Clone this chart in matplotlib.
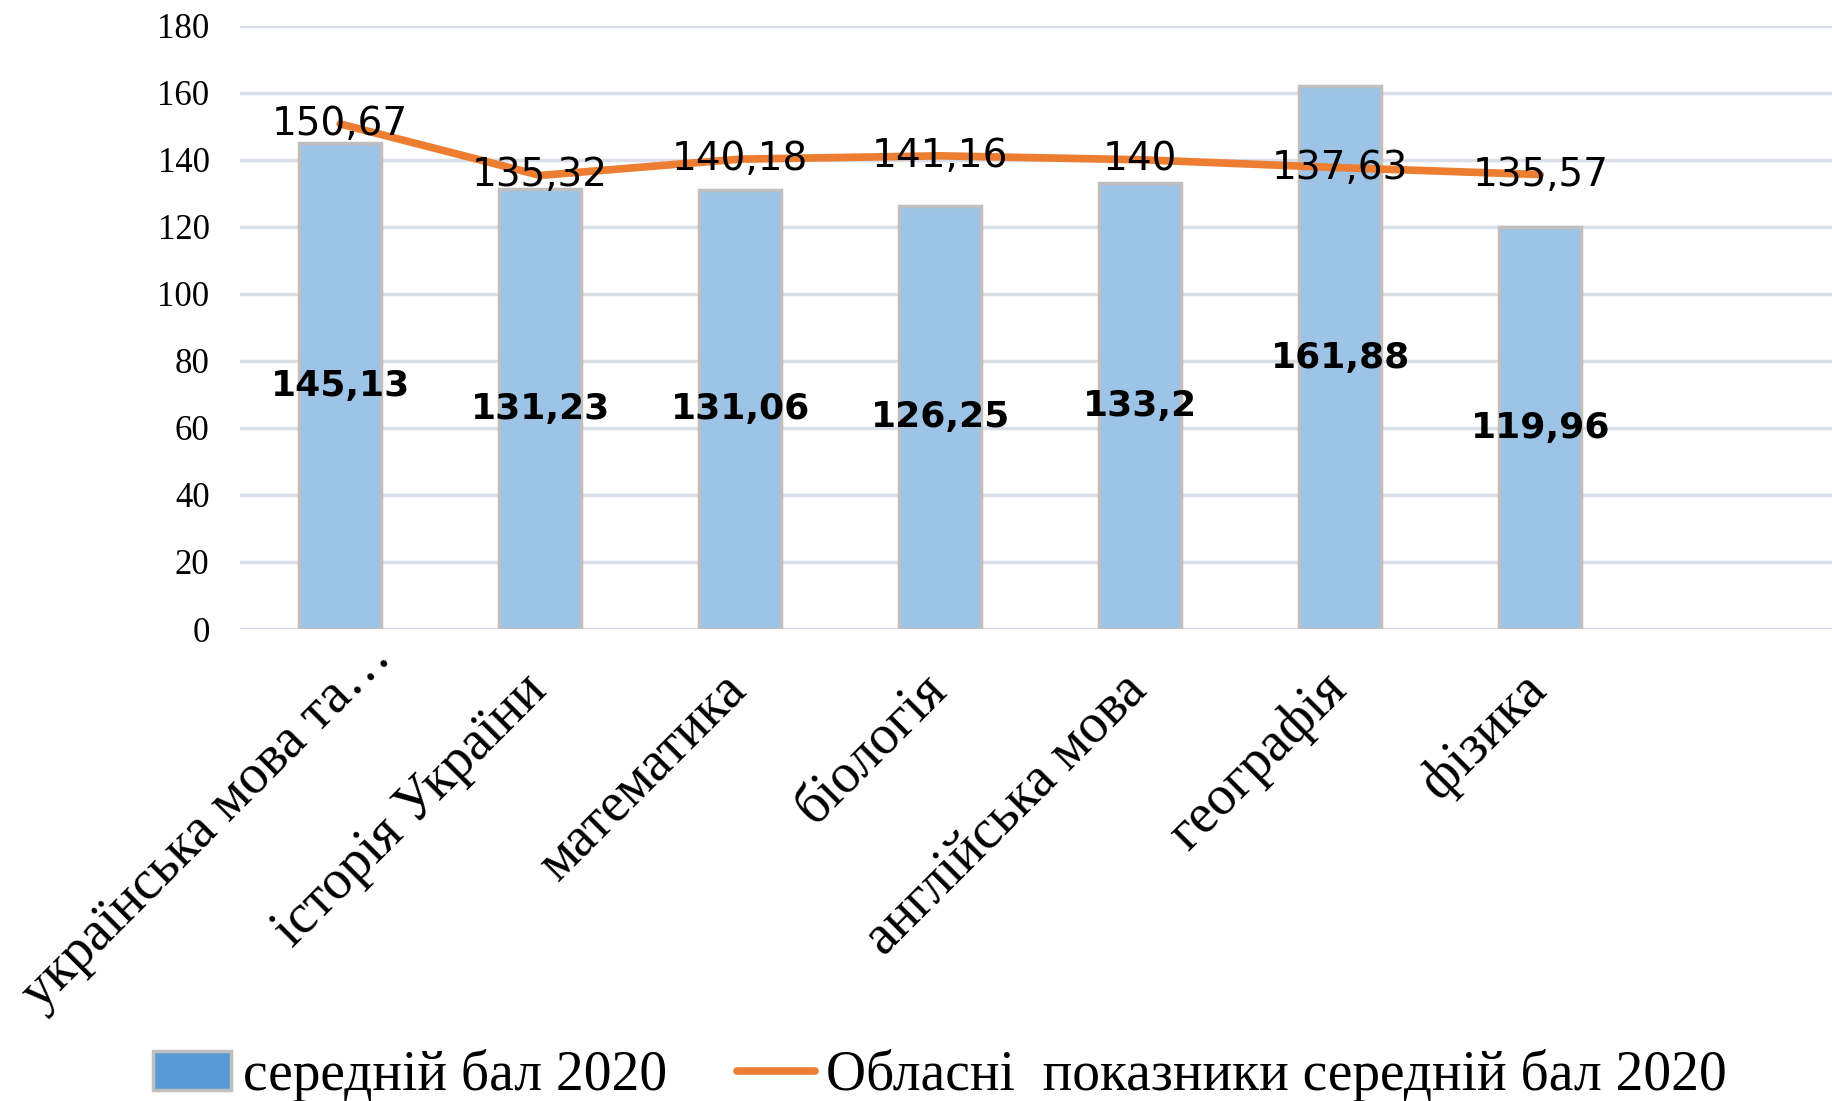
import numpy as np
import matplotlib
matplotlib.use("Agg")
from matplotlib import pyplot as plt

subjects = ["українська мова та…", "історія України", "математика", "біологія",
            "англійська мова", "географія", "фізика"]
school_avg = [145.13, 131.23, 131.06, 126.25, 133.2, 161.88, 119.96]
region_avg = [150.67, 135.32, 140.18, 141.16, 140, 137.63, 135.57]
y_ticks = [0, 20, 40, 60, 80, 100, 120, 140, 160, 180]

def fmt(v):
    return ("%g" % v).replace(".", ",")

fig = plt.figure(figsize=(18.33, 11.01), dpi=100)
ax = fig.add_axes([0.131, 0.4287, 0.873, 0.548])

x = np.arange(len(subjects))
bars = ax.bar(x, school_avg, width=0.41, color="#9DC3E6", edgecolor="#BFBFBF",
              linewidth=2.5, zorder=2, label="середній бал 2020")
line, = ax.plot(x, region_avg, color="#ED7D31", linewidth=5.5, solid_capstyle="round",
                zorder=3, label="Обласні  показники середній бал 2020")

# bar labels in the middle of each bar
for xi, v in zip(x, school_avg):
    ax.text(xi, v / 2, fmt(v), ha="center", va="center", fontsize=26,
            fontweight="bold", family="DejaVu Sans", zorder=4)
# line labels centred on points
for xi, v in zip(x, region_avg):
    ax.text(xi, v, fmt(v), ha="center", va="center", fontsize=28,
            family="DejaVu Sans", zorder=4)

ax.set_xlim(-0.5, 7.5)
ax.set_ylim(0, 180)
ax.set_yticks(y_ticks)
ax.set_yticklabels([str(t) for t in y_ticks], family="Liberation Serif", fontsize=25)
ax.set_xticks(x)
ax.set_xticklabels([])
# rotated category labels, placed by hand so the ends sit like Excel's
for i, name in enumerate(subjects):
    off = (17.6, -1) if i == 0 else (-14.4, -25)
    ax.annotate(name, xy=(i, 0), xycoords=("data", "axes fraction"),
                xytext=off, textcoords="offset points",
                rotation=45, ha="right", va="top", rotation_mode="anchor",
                family="Liberation Serif", fontsize=40, annotation_clip=False)
ax.tick_params(axis="both", length=0)
ax.tick_params(axis="y", pad=22)
ax.grid(axis="y", color="#D9DEE8", linewidth=2.5, zorder=0)
for s in ax.spines.values():
    s.set_visible(False)

leg_patch = plt.Rectangle((0, 0), 1, 1, facecolor="#5B9BD5", edgecolor="#BFBFBF", linewidth=2.5)
fig.legend([leg_patch, line], ["середній бал 2020", "Обласні  показники середній бал 2020"],
           loc="center", bbox_to_anchor=(0.513, 0.023), ncol=2, frameon=False,
           prop={"family": "Liberation Serif", "size": 40}, handlelength=1.4,
           handletextpad=0.21, columnspacing=1.26, borderpad=0)

fig.savefig("out.png", dpi=100)
